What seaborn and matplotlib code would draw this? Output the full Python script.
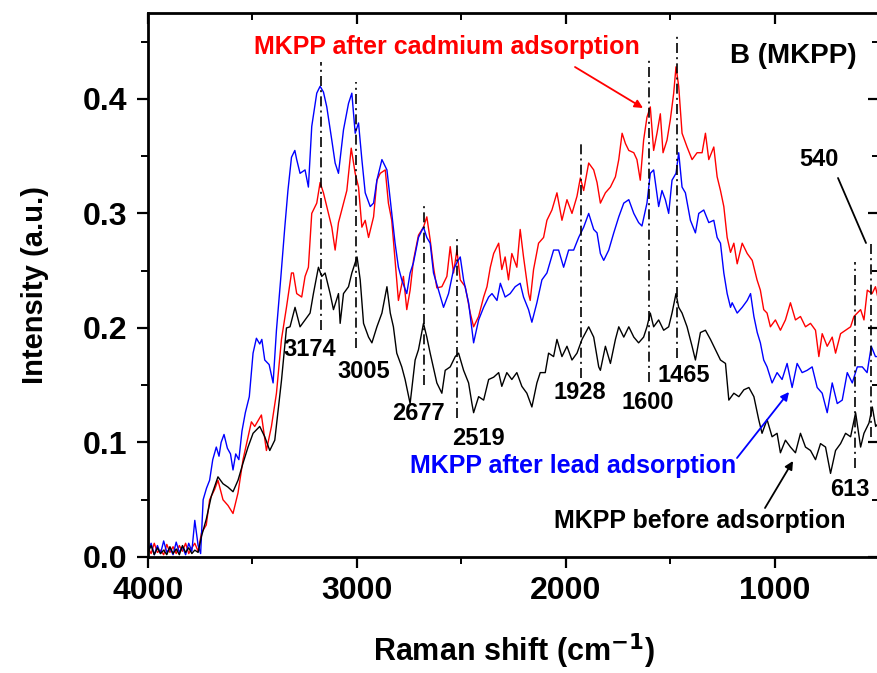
import numpy as np
import pandas as pd
import matplotlib
matplotlib.use("Agg")
import matplotlib.pyplot as plt
import seaborn as sns

# ---------------- data ----------------
blue_wn = [4000,3985,3970,3955,3940,3925,3910,3895,3880,3865,3850,3835,3820,3805,3790,3776,3760,3748,3736,3720,3705,3690,3673,3660,3650,3636,3620,3605,3593,3580,3565,3550,3534,3515,3497,3481,3465,3455,3441,3420,3401,3385,3365,3345,3330,3313,3297,3288,3272,3248,3232,3216,3192,3176,3160,3144,3120,3104,3088,3064,3040,3024,3008,2992,2976,2960,2936,2920,2904,2880,2856,2840,2817,2801,2785,2761,2745,2729,2705,2681,2665,2649,2633,2609,2585,2561,2537,2521,2505,2489,2465,2441,2417,2393,2369,2353,2329,2313,2290,2266,2242,2218,2202,2178,2162,2138,2114,2090,2058,2034,2010,1986,1962,1938,1914,1890,1866,1850,1834,1818,1794,1770,1746,1722,1698,1674,1651,1635,1611,1595,1579,1555,1539,1523,1507,1491,1472,1459,1443,1427,1403,1379,1363,1339,1315,1291,1275,1259,1243,1227,1211,1203,1179,1155,1131,1115,1099,1083,1068,1052,1036,1012,988,964,940,916,892,868,844,820,796,772,748,724,700,676,652,628,604,580,557,537,517,502]
blue_int = [.005,.012,.002,.010,.003,.014,.004,.008,.002,.013,.004,.009,.002,.012,.005,.032,.010,.003,.050,.060,.067,.085,.096,.088,.100,.107,.095,.090,.076,.090,.085,.110,.126,.140,.178,.191,.186,.190,.172,.168,.152,.198,.242,.288,.320,.349,.355,.347,.335,.338,.323,.376,.405,.411,.406,.393,.364,.344,.335,.373,.396,.405,.370,.379,.347,.318,.306,.309,.329,.347,.338,.312,.274,.253,.242,.230,.248,.257,.279,.288,.279,.274,.248,.233,.218,.230,.251,.257,.262,.242,.222,.187,.207,.218,.227,.230,.224,.239,.227,.230,.236,.239,.227,.216,.205,.222,.242,.248,.268,.268,.253,.268,.268,.279,.288,.300,.286,.283,.265,.259,.268,.283,.297,.309,.312,.300,.292,.289,.309,.335,.338,.306,.320,.312,.300,.329,.335,.353,.323,.318,.294,.283,.300,.303,.292,.294,.279,.274,.248,.230,.218,.222,.213,.218,.224,.230,.210,.196,.187,.172,.166,.152,.161,.155,.169,.148,.169,.161,.163,.166,.148,.143,.126,.152,.134,.137,.161,.152,.166,.166,.161,.184,.175,.175]

red_wn = [4000,3985,3970,3955,3940,3925,3910,3895,3880,3865,3850,3835,3820,3805,3790,3776,3760,3744,3721,3705,3681,3665,3641,3617,3593,3569,3545,3521,3505,3489,3457,3433,3409,3385,3361,3337,3313,3304,3288,3264,3248,3232,3216,3192,3176,3160,3144,3120,3104,3088,3064,3048,3027,3008,2992,2976,2960,2944,2920,2904,2888,2864,2849,2833,2817,2801,2777,2761,2745,2729,2705,2681,2665,2649,2633,2617,2593,2569,2553,2537,2521,2505,2481,2457,2441,2417,2393,2377,2361,2345,2321,2306,2290,2274,2258,2234,2218,2202,2178,2170,2154,2130,2106,2090,2066,2042,2018,1994,1970,1946,1930,1914,1890,1866,1850,1834,1810,1786,1762,1746,1730,1714,1698,1674,1659,1643,1627,1611,1595,1579,1563,1547,1534,1515,1499,1483,1472,1459,1443,1419,1395,1371,1347,1331,1315,1291,1275,1259,1243,1227,1211,1195,1179,1155,1131,1107,1084,1068,1052,1036,1020,996,972,948,924,900,876,852,828,804,788,772,748,724,708,684,660,636,620,604,588,572,556,533,517,502]
red_int = [.008,.003,.012,.004,.006,.002,.011,.004,.009,.003,.010,.005,.012,.003,.008,.012,.005,.021,.028,.050,.059,.067,.050,.045,.038,.056,.085,.105,.118,.114,.124,.093,.114,.143,.190,.218,.248,.248,.230,.227,.245,.253,.300,.309,.327,.318,.306,.288,.268,.292,.309,.320,.357,.335,.323,.288,.294,.279,.297,.329,.335,.338,.309,.294,.259,.224,.245,.216,.233,.259,.281,.288,.297,.277,.253,.235,.236,.245,.271,.248,.268,.242,.236,.213,.201,.210,.227,.236,.253,.265,.274,.251,.262,.242,.265,.253,.286,.262,.230,.224,.251,.274,.279,.294,.303,.318,.294,.312,.300,.315,.331,.320,.344,.338,.327,.309,.318,.323,.332,.347,.370,.361,.355,.353,.347,.329,.364,.384,.393,.355,.370,.387,.353,.364,.382,.405,.428,.411,.370,.358,.347,.353,.353,.370,.347,.358,.332,.320,.306,.279,.266,.274,.256,.274,.265,.259,.242,.233,.216,.213,.201,.207,.198,.207,.222,.207,.210,.201,.204,.198,.175,.195,.184,.192,.178,.195,.198,.201,.210,.213,.216,.207,.233,.230,.236,.224]

black_wn = [4000,3985,3970,3955,3940,3925,3910,3895,3880,3865,3850,3835,3820,3805,3790,3776,3760,3744,3721,3697,3665,3641,3617,3593,3569,3545,3521,3497,3465,3441,3417,3393,3377,3361,3337,3320,3296,3272,3248,3224,3208,3184,3168,3152,3128,3112,3088,3080,3064,3040,3024,2999,2984,2968,2944,2928,2904,2880,2856,2840,2825,2809,2785,2769,2745,2721,2705,2681,2665,2649,2617,2593,2577,2553,2529,2513,2489,2465,2449,2441,2417,2393,2369,2345,2321,2306,2282,2258,2234,2210,2186,2162,2138,2122,2098,2082,2058,2042,2018,1994,1970,1946,1922,1890,1866,1842,1834,1810,1786,1762,1746,1722,1698,1674,1651,1627,1611,1595,1579,1555,1531,1507,1491,1472,1459,1443,1419,1395,1379,1355,1331,1307,1283,1259,1235,1219,1195,1171,1147,1123,1099,1076,1060,1036,1012,988,972,948,924,900,876,852,828,804,780,756,732,708,684,660,636,612,588,572,548,532,516,502]
black_int = [.004,.010,.002,.008,.003,.006,.002,.009,.003,.007,.002,.010,.004,.008,.003,.006,.004,.018,.033,.053,.070,.064,.061,.057,.067,.082,.096,.108,.114,.105,.093,.102,.128,.154,.200,.201,.218,.201,.207,.213,.230,.253,.245,.248,.230,.216,.230,.204,.230,.236,.248,.262,.242,.204,.192,.187,.201,.213,.236,.213,.201,.178,.166,.155,.134,.172,.181,.204,.192,.178,.152,.143,.163,.166,.175,.178,.163,.152,.134,.126,.140,.137,.155,.157,.161,.149,.161,.155,.161,.149,.143,.131,.152,.161,.161,.178,.175,.190,.175,.184,.172,.178,.190,.201,.192,.166,.163,.184,.169,.190,.201,.192,.201,.192,.187,.192,.201,.213,.201,.207,.198,.201,.213,.230,.218,.213,.201,.184,.172,.196,.198,.190,.181,.172,.169,.137,.143,.140,.146,.148,.140,.120,.108,.120,.105,.108,.091,.102,.096,.091,.108,.096,.093,.085,.099,.096,.073,.093,.099,.108,.105,.126,.096,.108,.117,.131,.114,.117]

series_names = ["MKPP after cadmium adsorption", "MKPP after lead adsorption", "MKPP before adsorption"]
peaks = [3174, 3005, 2677, 2519, 1928, 1600, 1465, 613, 540]
peak_labels = ["3174", "3005", "2677", "2519", "1928", "1600", "1465", "613", "540"]
x_ticks = [4000, 3000, 2000, 1000]
y_ticks = [0.0, 0.1, 0.2, 0.3, 0.4]

df = pd.concat([
    pd.DataFrame({"wn": red_wn, "I": red_int, "s": series_names[0]}),
    pd.DataFrame({"wn": blue_wn, "I": blue_int, "s": series_names[1]}),
    pd.DataFrame({"wn": black_wn, "I": black_int, "s": series_names[2]}),
], ignore_index=True)

# ---------------- style ----------------
sns.set_theme(style="ticks")
plt.rcParams["font.family"] = ["Liberation Sans", "DejaVu Sans"]
plt.rcParams["font.weight"] = "bold"
plt.rcParams["mathtext.default"] = "bf"

W, H = 878, 673
fig = plt.figure(figsize=(W / 100, H / 100), dpi=100)
L, R, B, T = 148, 879, 557, 13
ax = fig.add_axes([L / W, 1 - B / H, (R - L) / W, (B - T) / H])

XMAX, XMIN = 4000, 500
YMIN, YMAX = 0.0, 0.475
ax.set_xlim(XMAX, XMIN)
ax.set_ylim(YMIN, YMAX)

palette = {series_names[0]: "#ff0000", series_names[1]: "#0000ff", series_names[2]: "#000000"}
sns.lineplot(data=df, x="wn", y="I", hue="s", palette=palette, estimator=None,
             sort=False, legend=False, lw=1.0, ax=ax)

def px2x(px):
    return XMAX - (px - L) / (R - L) * (XMAX - XMIN)

def px2y(py):
    return YMIN + (B - py) / (B - T) * (YMAX - YMIN)

# peak marker lines
line_top_px = [62, 82, 203, 237, 143, 58, 35, 262, 243]
line_bot_px = [330, 348, 385, 418, 378, 382, 358, 468, 437]
label_px = [(310, 350), (364, 372), (418, 414), (478, 439), (580, 393),
            (648, 403), (684, 376), (850, 490), (819, 159)]
for p, lab, t, b, (lx, ly) in zip(peaks, peak_labels, line_top_px, line_bot_px, label_px):
    ax.plot([p, p], [px2y(b), px2y(t)], color="black", lw=1.2,
            dashes=(6, 2.5, 1.2, 2.5))
    ax.text(px2x(lx), px2y(ly), lab, ha="center", va="center",
            fontsize=17, fontweight="bold", color="black")

# connector for 540
ax.plot([px2x(838), px2x(866)], [px2y(178), px2y(243)], color="black", lw=1.3)

# series annotations
ax.text(px2x(447), px2y(47), series_names[0], color="#ff0000", ha="center",
        va="center", fontsize=18, fontweight="bold")
ax.annotate("", xy=(px2x(643), px2y(108)), xytext=(px2x(575), px2y(67)),
            arrowprops=dict(arrowstyle="-|>", color="#ff0000", lw=1.3,
                            mutation_scale=12, shrinkA=0, shrinkB=0))
ax.text(px2x(573), px2y(466), series_names[1], color="#0000ff", ha="center",
        va="center", fontsize=18, fontweight="bold")
ax.annotate("", xy=(px2x(789), px2y(392)), xytext=(px2x(737), px2y(458)),
            arrowprops=dict(arrowstyle="-|>", color="#0000ff", lw=1.3,
                            mutation_scale=12, shrinkA=0, shrinkB=0))
ax.text(px2x(700), px2y(521), series_names[2], color="black", ha="center",
        va="center", fontsize=18, fontweight="bold")
ax.annotate("", xy=(px2x(793), px2y(461)), xytext=(px2x(765), px2y(508)),
            arrowprops=dict(arrowstyle="-|>", color="black", lw=1.3,
                            mutation_scale=12, shrinkA=0, shrinkB=0))
ax.text(px2x(793), px2y(56), "B (MKPP)", color="black", ha="center",
        va="center", fontsize=20, fontweight="bold")

# axes styling
for sp in ax.spines.values():
    sp.set_linewidth(2.0)
    sp.set_color("black")
    sp.set_visible(True)
ax.set_xticks(x_ticks)
ax.set_xticks([3500, 2500, 1500, 500], minor=True)
ax.set_yticks(y_ticks)
ax.set_yticks([0.05, 0.15, 0.25, 0.35, 0.45], minor=True)
ax.set_xticklabels([str(v) for v in x_ticks])
ax.set_yticklabels([f"{v:.1f}" for v in y_ticks])
ax.tick_params(axis="both", which="major", labelsize=23, length=8, width=1.6,
               color="black", labelcolor="black", direction="out")
ax.tick_params(axis="x", which="major", pad=6)
ax.tick_params(axis="y", which="major", pad=7)
ax.tick_params(axis="both", which="minor", length=5, width=1.4, direction="out",
               color="black")
ax.tick_params(top=True, right=True, which="both")
for tk in ax.xaxis.get_major_ticks() + ax.xaxis.get_minor_ticks():
    tk.tick2line.set_marker(3)  # inward from top
for tk in ax.yaxis.get_major_ticks() + ax.yaxis.get_minor_ticks():
    tk.tick2line.set_marker(0)  # inward from right
for lbl in ax.get_xticklabels() + ax.get_yticklabels():
    lbl.set_fontweight("bold")

ax.set_xlabel("Raman shift (cm$^{\\mathbf{-1}}$)", fontsize=22, fontweight="bold",
              labelpad=18, color="black")
ax.set_ylabel("Intensity (a.u.)", fontsize=21, fontweight="bold", labelpad=24,
              color="black")
ax.grid(False)

fig.savefig("out.png", dpi=100)
